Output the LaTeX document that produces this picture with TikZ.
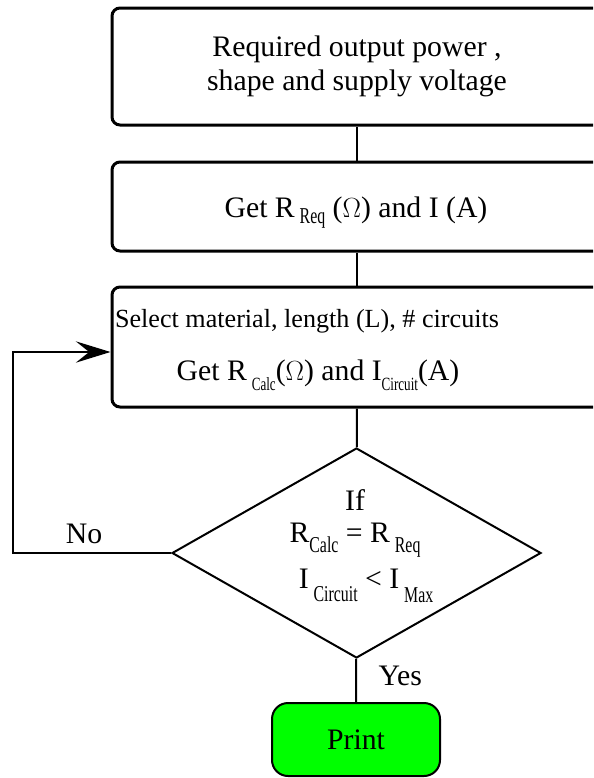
\documentclass[tikz,border=0pt]{standalone}
\usepackage{fontspec}
\setmainfont{Liberation Serif}
\usetikzlibrary{shapes.geometric,arrows.meta}
\definecolor{printgreen}{RGB}{0,255,0}
% narrow lowered subscripts: size, drop, text
\newcommand{\sbs}[3]{\raisebox{-#2}{\scalebox{0.7}[1]{\fontsize{#1}{#1}\selectfont #3}}}
\tikzset{
  stepbox/.style={draw, line width=2.25pt, rounded corners=6pt, minimum width=367.5pt, inner sep=0pt},
  decision/.style={draw, diamond, line width=1.5pt, minimum width=276.75pt, minimum height=157.5pt, inner sep=0pt},
  endbox/.style={draw, line width=1.5pt, fill=printgreen, rounded corners=12pt, minimum width=126pt, minimum height=54.75pt},
  flowline/.style={line width=1.5pt},
}
\begin{document}
\begin{tikzpicture}[x=0.75pt,y=0.75pt,yscale=-1,xscale=1,font=\fontsize{22.3}{25.5}\selectfont]
\path[use as bounding box] (0,0) rectangle (593,778);
\clip (0,0) rectangle (593,778);

%Boxes
\node [stepbox, minimum height=87.75pt, align=center] (need) at (357,66.5) {Required output power ,\\shape and supply voltage};
\node [stepbox, minimum height=66.75pt] (get) at (357,206.5) {};
\node [stepbox, minimum height=90pt] (sel) at (357,347) {};
%Decision
\node [decision] (dec) at (356.5,553) {};
%End
\node [endbox] (print) at (356,739.5) {Print};

% Text Node
\node [anchor=base] (getA) at (356,217) {Get R\,\sbs{17}{5pt}{Req} ($\Omega$) and I (A)};
% Text Node
\node [anchor=base, font=\fontsize{19.6}{22}\selectfont] (selA) at (307,327) {Select material, length (L), \# circuits};
% Text Node
\node [anchor=base] (selB) at (318,380) {Get R\,\sbs{14}{7.5pt}{Calc}($\Omega$) and I\sbs{14}{7.5pt}{Circuit}(A)};
% Text Node
\node [anchor=base] (condA) at (355,510) {If};
% Text Node
\node [anchor=base] (condB) at (355,542) {R\sbs{17}{8pt}{Calc} = R\,\sbs{17}{8pt}{Req}};
% Text Node
\node [anchor=base] (condC) at (366,588) {I\,\sbs{17}{10pt}{Circuit} < I\,\sbs{17}{10.5pt}{Max}};
% Text Node
\node [anchor=base] (no) at (84,543) {No};
% Text Node
\node [anchor=base west] (yes) at (374,685) {Yes};

%Connectors
\draw [flowline] (need) -- (get);
\draw [flowline] (get) -- (sel);
\draw [flowline] (sel) -- (dec);
\draw [flowline] (dec) -- (print);
\coordinate (turn) at (13,352);
\draw [flowline, -{Stealth[length=26pt,width=16pt,inset=10pt]}] (dec.west) -| (turn) -- (turn -| sel.west);

\end{tikzpicture}
\end{document}
